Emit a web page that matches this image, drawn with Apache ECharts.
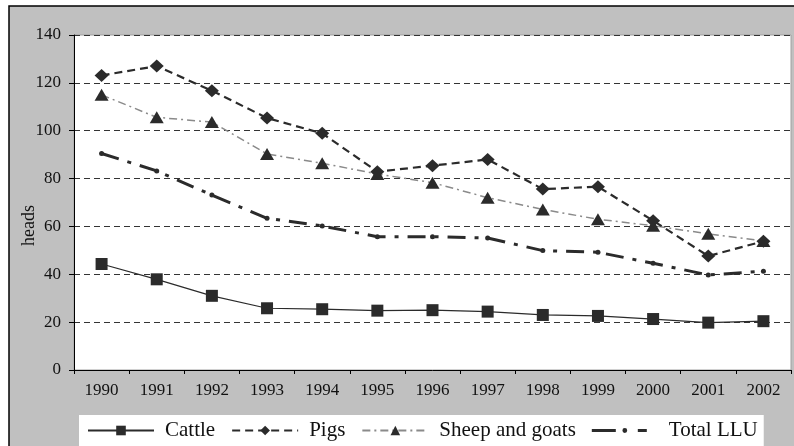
<!DOCTYPE html>
<html>
<head>
<meta charset="utf-8">
<script src="https://cdn.jsdelivr.net/npm/echarts@6/dist/echarts.min.js"></script>
<style>html,body{margin:0;padding:0;background:#fff;}#c{width:794px;height:446px;}</style>
</head>
<body>
<div id="c"></div>
<script>
var years = ['1990','1991','1992','1993','1994','1995','1996','1997','1998','1999','2000','2001','2002'];
var cattle = [44.3, 37.9, 31.0, 25.8, 25.4, 24.8, 25.0, 24.4, 23.0, 22.6, 21.3, 19.8, 20.4];
var pigs = [123.1, 127.0, 116.7, 105.3, 98.9, 82.9, 85.4, 88.0, 75.6, 76.6, 62.4, 47.6, 53.8];
var sheep = [115.0, 105.6, 103.6, 90.3, 86.4, 81.9, 78.3, 72.0, 67.1, 63.0, 60.3, 56.9, 53.9];
var total = [90.5, 83.2, 73.1, 63.4, 60.2, 55.7, 55.7, 55.2, 49.9, 49.2, 44.6, 39.7, 41.3];
var yTicks = [0, 20, 40, 60, 80, 100, 120, 140];

var FONT = '"Liberation Serif","DejaVu Serif",serif';
var llIcon = 'path://M0 0M66 12M0 4.5H24V7.5H0ZM30.6 6a2.4 2.4 0 1 0 4.8 0a2.4 2.4 0 1 0 -4.8 0ZM46 4.5H55V7.5H46Z';
var chart = echarts.init(document.getElementById('c'));
var option = {
  backgroundColor: '#ffffff',
  animation: false,
  graphic: [{
    type: 'rect', z: -100, silent: true,
    shape: {x: 9, y: 6, width: 800, height: 460},
    style: {fill: '#c0c0c0', stroke: '#000', lineWidth: 1.5}
  }],
  grid: {left: 74, right: 3, top: 35, bottom: 76, show: true, backgroundColor: '#ffffff', borderColor: '#a0a0a0', borderWidth: 1},
  legend: {
    left: 79, bottom: 0,
    backgroundColor: '#ffffff', padding: [5, 6, 5, 8],
    itemWidth: 66, itemHeight: 12, itemGap: 16,
    textStyle: {fontFamily: FONT, fontSize: 21, color: '#111', padding: [0, 0, 0, 6]},
    data: ['Cattle', 'Pigs', 'Sheep and goats', {name: 'Total LLU', icon: llIcon, itemStyle: {borderWidth: 0}}]
  },
  xAxis: {
    type: 'category', data: years, boundaryGap: true,
    axisLine: {lineStyle: {color: '#000', width: 1}},
    axisTick: {show: true, length: 4, lineStyle: {color: '#000'}},
    axisLabel: {fontFamily: FONT, fontSize: 17, color: '#111', margin: 12}
  },
  yAxis: {
    type: 'value', min: yTicks[0], max: yTicks[yTicks.length - 1], interval: 20,
    name: 'heads', nameLocation: 'middle', nameGap: 36, nameRotate: 90, nameMoveOverlap: false,
    nameTextStyle: {fontFamily: FONT, fontSize: 18, color: '#111', padding: [0, 46, 0, 0]},
    axisLine: {show: true, lineStyle: {color: '#000', width: 1}},
    axisTick: {show: true, length: 5, lineStyle: {color: '#000'}},
    axisLabel: {fontFamily: FONT, fontSize: 17, color: '#111', margin: 13},
    splitLine: {show: true, lineStyle: {color: '#333', type: [6, 4], width: 1}}
  },
  series: [
    {name: 'Cattle', type: 'line', data: cattle, symbol: 'rect', symbolSize: 12,
     itemStyle: {color: '#2b2b2b'}, lineStyle: {color: '#2b2b2b', width: 1.2, type: 'solid'}, z: 5},
    {name: 'Pigs', type: 'line', data: pigs, symbol: 'diamond', symbolSize: [14, 13],
     itemStyle: {color: '#2b2b2b'}, lineStyle: {color: '#2b2b2b', width: 2.2, type: [8, 5]}, z: 4},
    {name: 'Sheep and goats', type: 'line', data: sheep, symbol: 'triangle', symbolSize: [14, 12],
     itemStyle: {color: '#2b2b2b'}, lineStyle: {color: '#8a8a8a', width: 1.5, type: [8, 4, 2, 4]}, z: 3},
    {name: 'Total LLU', type: 'line', data: total, symbol: 'circle', symbolSize: 5,
     itemStyle: {color: '#2b2b2b'}, lineStyle: {color: '#2b2b2b', width: 3, type: [18, 9, 4, 9]}, z: 2}
  ]
};
chart.setOption(option);
</script>
</body>
</html>
